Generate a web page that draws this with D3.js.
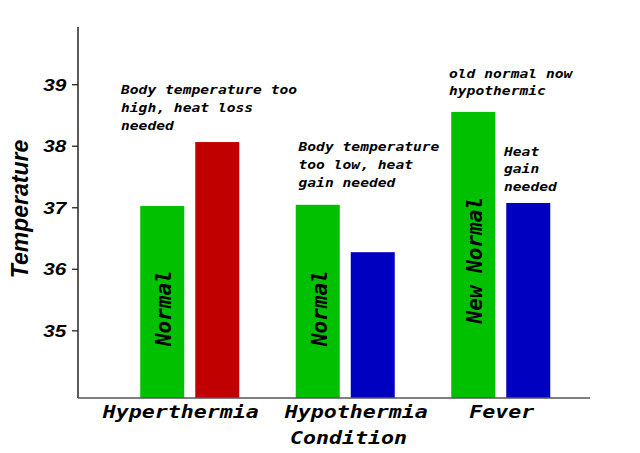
<!DOCTYPE html>
<html>
<head>
<meta charset="utf-8">
<script src="https://cdn.jsdelivr.net/npm/d3@7"></script>
<style>
  html, body { margin: 0; padding: 0; background: #fff; }
  svg { display: block; }
</style>
</head>
<body>
<svg id="chart" width="640" height="453"></svg>
<script>
// ---- data ----
const categories = ["Hyperthermia", "Hypothermia", "Fever"];
const normalValues = [37.02, 37.04, 38.55];
const conditionValues = [38.06, 36.27, 37.07];
const conditionColors = ["#c00000", "#0000c0", "#0000c0"];
const normalLabels = ["Normal", "Normal", "New Normal"];
const yTicks = [35, 36, 37, 38, 39];
const yTitle = "Temperature";
const xTitle = "Condition";
const notes = [
  ["Body temperature too", "high, heat loss", "needed"],
  ["Body temperature", "too low, heat", "gain needed"],
  ["old normal now", "hypothermic"],
  ["Heat", "gain", "needed"]
];

// ---- layout ----
const mLeft = 78, mRight = 590, mTop = 27, mBottom = 398;
const mono = "'DejaVu Sans Mono', monospace";
const sans = "'Liberation Sans', Arial, sans-serif";
const SX = 1.22; // horizontal stretch of upright text

const svg = d3.select("#chart");

const y = d3.scaleLinear().domain([33.9, 39.93]).range([mBottom, mTop]);
const x = d3.scaleBand().domain(categories).range([112, 578.5]).paddingInner(0).paddingOuter(0);
const sub = d3.scaleBand().domain(["normal", "cond"]).range([-49.5, 49.5]).paddingInner(0.2).paddingOuter(0);

const green = "#00c000";

// bars
const g = svg.append("g");
categories.forEach((c, i) => {
  const cx = x(c) + x.bandwidth() / 2;
  g.append("rect")
    .attr("x", cx + sub("normal"))
    .attr("width", sub.bandwidth())
    .attr("y", y(normalValues[i]))
    .attr("height", mBottom - y(normalValues[i]))
    .attr("fill", green);
  g.append("rect")
    .attr("x", cx + sub("cond"))
    .attr("width", sub.bandwidth())
    .attr("y", y(conditionValues[i]))
    .attr("height", mBottom - y(conditionValues[i]))
    .attr("fill", conditionColors[i]);
});

// labels inside green bars (rotated)
const labelMid = [35.36, 35.36, 36.14];
categories.forEach((c, i) => {
  const cx = x(c) + x.bandwidth() / 2 + sub("normal") + sub.bandwidth() / 2;
  svg.append("text")
    .attr("transform", `translate(${cx + 9},${y(labelMid[i])}) rotate(-90)`)
    .attr("text-anchor", "middle")
    .attr("font-family", mono)
    .attr("font-weight", "bold")
    .attr("font-style", "oblique")
    .attr("font-size", 21)
    .attr("fill", "#000")
    .text(normalLabels[i]);
});

// annotations
const notePos = [[121, 94], [298.5, 151], [449, 77.5], [504, 155.5]];
notes.forEach((lines, k) => {
  lines.forEach((ln, j) => {
    svg.append("text")
      .attr("transform", `translate(${notePos[k][0]},${notePos[k][1] + j * 17.8}) scale(${SX},1)`)
      .attr("font-family", mono)
      .attr("font-weight", "bold")
      .attr("font-style", "oblique")
      .attr("font-size", 12)
      .attr("fill", "#000")
      .text(ln);
  });
});

// y axis
const yAxis = svg.append("g")
  .attr("transform", `translate(${mLeft},0)`)
  .call(d3.axisLeft(y).tickValues(yTicks).tickSize(6).tickSizeOuter(0).tickFormat(d3.format("d")));
yAxis.select(".domain").attr("stroke", "#000").attr("stroke-width", 1.3).attr("d", `M0,${mTop}V${mBottom}`);
yAxis.selectAll(".tick line").attr("stroke", "#222").attr("stroke-width", 1.3);
yAxis.selectAll(".tick text")
  .attr("x", -9.5)
  .attr("dy", "0.35em")
  .attr("transform", `scale(${SX},1)`)
  .attr("font-family", sans)
  .attr("font-weight", "bold")
  .attr("font-style", "italic")
  .attr("font-size", 17)
  .attr("fill", "#000");

// x axis
const xAxis = svg.append("g")
  .attr("transform", `translate(0,${mBottom})`)
  .call(d3.axisBottom(x).tickSize(0).tickSizeOuter(0));
xAxis.select(".domain").attr("stroke", "#555").attr("stroke-width", 1.5).attr("d", `M${mLeft},0H${mRight}`);
const xOffsets = [-9, 11, 1];
xAxis.selectAll(".tick text")
  .attr("y", 0)
  .attr("dy", 0)
  .attr("transform", (d, i) => `translate(${xOffsets[i]},20) scale(1.2,1)`)
  .attr("font-family", mono)
  .attr("font-weight", "bold")
  .attr("font-style", "oblique")
  .attr("font-size", 18)
  .attr("fill", "#000");

// axis titles
svg.append("text")
  .attr("transform", `translate(348.5,443.5) scale(1.2,1)`)
  .attr("text-anchor", "middle")
  .attr("font-family", mono)
  .attr("font-weight", "bold")
  .attr("font-style", "oblique")
  .attr("font-size", 18)
  .attr("fill", "#000")
  .text(xTitle);

svg.append("text")
  .attr("transform", `translate(27.5,209) rotate(-90)`)
  .attr("text-anchor", "middle")
  .attr("font-family", sans)
  .attr("font-weight", "bold")
  .attr("font-style", "italic")
  .attr("font-size", 23)
  .attr("fill", "#000")
  .text(yTitle);
</script>
</body>
</html>
